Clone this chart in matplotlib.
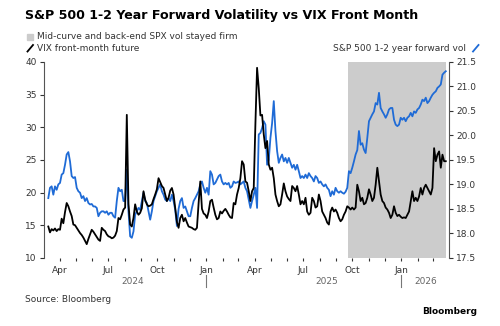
import matplotlib
matplotlib.use("Agg")
import matplotlib.pyplot as plt
import matplotlib.dates as mdates
import matplotlib.transforms as mtrans
from matplotlib.lines import Line2D
from matplotlib.patches import Rectangle
from matplotlib.ticker import FuncFormatter
import pandas as pd

# roughly every 3 days from mid-March 2024 to late March 2026
start_date = "2024-03-11"
end_date = "2026-03-25"
shade_start = "2025-09-23"
shade_end = "2026-03-25"

vix_front = [
    14.8, 13.9, 14.4, 14.2, 14.5, 14.1, 14.4, 14.3, 16.0, 15.3, 17.0, 18.4, 17.9, 17.1, 16.4, 15.1,
    15.0, 14.6, 14.2, 13.8, 13.5, 13.1, 12.6, 12.1, 12.9, 13.6, 14.3, 14.0, 13.6, 13.2, 12.8, 12.6,
    14.6, 14.3, 14.1, 13.6, 13.3, 13.2, 13.0, 13.1, 13.4, 14.1, 16.1, 15.9, 16.6, 17.4, 17.7, 31.9,
    18.2, 15.1, 14.8, 16.1, 18.2, 17.1, 16.6, 16.9, 17.6, 20.2, 18.9, 18.2, 17.9, 18.0, 18.2, 19.0,
    19.7, 20.5, 22.2, 21.6, 21.0, 20.7, 19.7, 18.7, 19.2, 20.3, 20.7, 19.7, 17.6, 15.5, 14.6, 16.1,
    16.6, 15.6, 16.1, 15.4, 14.8, 14.7, 14.6, 14.4, 14.3, 14.6, 18.4, 21.7, 17.5, 16.8, 16.6, 16.1,
    17.1, 18.7, 18.9, 17.7, 16.6, 15.9, 16.1, 17.1, 16.8, 17.2, 17.5, 17.1, 16.6, 16.2, 16.1, 18.4,
    18.2, 19.7, 20.7, 22.2, 24.8, 24.3, 21.7, 21.5, 20.2,
    18.7, 20.2, 20.7, 30.5, 39.1, 36.0, 31.8, 31.9, 28.9, 26.8, 27.9, 24.3, 23.5, 23.8, 22.2, 19.7,
    18.7, 17.9, 18.2, 19.7, 21.4, 20.2, 19.4, 19.0, 18.7, 21.0, 20.7, 20.2, 21.0, 19.7, 18.2, 18.7,
    18.2, 19.2, 17.1, 16.6, 16.9, 19.2, 18.7, 17.7, 17.9, 19.7, 18.7, 17.1, 16.6, 16.1, 15.4, 15.1,
    17.1, 17.7, 17.1, 17.4, 16.9, 16.1, 15.6, 15.9, 16.6, 17.1, 17.9, 17.7, 17.4, 17.7, 17.4, 17.7,
    21.2, 20.2, 18.7, 19.2, 18.2, 18.4, 19.2, 20.5, 19.7, 18.7, 19.2, 21.2, 23.8, 21.7, 19.7, 18.7,
    18.4, 17.7, 17.4, 16.9, 16.1, 16.6, 17.9, 16.9, 16.4, 16.6, 16.3, 16.1, 16.2, 16.1, 16.6, 17.1,
    18.7, 20.2, 18.7, 19.2, 18.7, 19.4, 20.7, 19.7, 20.7, 21.2, 20.7, 20.2, 19.7, 20.7, 26.8, 24.8,
    25.8, 26.3, 23.8, 25.8, 24.8, 24.8,
]

spx_fwd_vol = [
    18.72, 18.93, 18.96, 18.79, 18.96, 18.89, 19.00, 19.03, 19.20, 19.23, 19.40, 19.61, 19.66, 19.47,
    19.17, 19.13, 19.15, 18.93, 18.86, 18.83, 18.72, 18.76, 18.66, 18.72, 18.62, 18.59, 18.60, 18.55,
    18.55, 18.52, 18.35, 18.42, 18.45, 18.45, 18.42, 18.45, 18.38, 18.42, 18.42, 18.35, 18.32, 18.66,
    18.93, 18.86, 18.89, 18.66, 18.66, 19.30, 18.45, 17.94, 17.91, 18.04, 18.38, 18.45, 18.52, 18.48,
    18.66, 18.83, 18.66, 18.62, 18.45, 18.28, 18.45, 18.66, 18.76, 18.86, 18.93, 19.00, 18.86, 18.79,
    18.69, 18.66, 18.72, 18.66, 18.79, 18.66, 18.48, 18.15, 18.50, 18.66, 18.72, 18.52, 18.55, 18.45,
    18.35, 18.35, 18.52, 18.66, 18.72, 18.79, 18.86, 19.00, 19.06, 18.93, 18.83, 18.93, 18.79, 19.27,
    19.20, 19.00, 19.03, 19.10, 19.17, 19.20, 19.06, 19.00, 19.03, 19.00, 19.03, 18.93, 18.96, 19.06,
    19.03, 19.04, 19.06, 19.00, 19.03, 19.06, 18.93, 18.86, 18.69,
    18.52, 18.66, 18.79, 18.93, 18.52, 20.02, 20.05, 20.15, 20.29, 20.22, 19.40, 19.50, 19.95, 20.25,
    20.70, 20.09, 19.68, 19.44, 19.54, 19.61, 19.47, 19.54, 19.44, 19.54, 19.44, 19.34, 19.40, 19.30,
    19.40, 19.27, 19.13, 19.17, 19.13, 19.20, 19.13, 19.23, 19.17, 19.13, 19.06, 19.17, 19.13, 19.03,
    19.06, 19.00, 18.96, 19.00, 18.93, 18.89, 18.76, 18.86, 18.79, 18.93, 18.86, 18.83, 18.86, 18.83,
    18.81, 18.85, 18.93, 19.27, 19.23, 19.34, 19.47, 19.61, 19.70, 20.09, 19.81, 19.84, 19.71, 19.64,
    19.95, 20.29, 20.36, 20.43, 20.49, 20.66, 20.63, 20.87, 20.56, 20.49, 20.43, 20.36, 20.43, 20.53,
    20.56, 20.56, 20.32, 20.22, 20.19, 20.22, 20.36, 20.32, 20.36, 20.29, 20.36, 20.39, 20.46, 20.39,
    20.49, 20.46, 20.53, 20.56, 20.63, 20.73, 20.70, 20.77, 20.66, 20.70, 20.77, 20.83, 20.87, 20.90,
    20.97, 21.00, 21.04, 21.24, 21.28, 21.31,
]

left_ticks = [10, 15, 20, 25, 30, 35, 40]
right_ticks = [17.5, 18.0, 18.5, 19.0, 19.5, 20.0, 20.5, 21.0, 21.5]
year_labels = [("2024-08-15", "2024"), ("2025-08-15", "2025"), ("2026-02-15", "2026")]
year_breaks = ["2025-01-01", "2026-01-01"]

dates = pd.date_range(start_date, end_date, periods=len(vix_front))

blue = "#1f6bd6"
txt = "#333333"

fig = plt.figure(figsize=(5.0, 3.26), dpi=100)
ax = fig.add_axes([0.087, 0.209, 0.811, 0.601])
ax2 = ax.twinx()

ax2.axvspan(pd.Timestamp(shade_start), pd.Timestamp(shade_end), color="#cccccc", lw=0, zorder=0)
ax2.plot(dates, spx_fwd_vol, color=blue, lw=1.3, zorder=2)
ax.plot(dates, vix_front, color="black", lw=1.3, zorder=3)
ax.set_zorder(ax2.get_zorder() + 1)
ax.patch.set_visible(False)

ax.set_ylim(10, 40)
ax2.set_ylim(17.5, 21.5)
ax.set_yticks(left_ticks)
ax2.set_yticks(right_ticks)
ax2.yaxis.set_major_formatter(FuncFormatter(lambda v, p: "%.1f" % v))
ax.set_xlim(pd.Timestamp("2024-03-02"), pd.Timestamp("2026-03-31"))

for a in (ax, ax2):
    for s in ("top", "bottom"):
        a.spines[s].set_visible(False)
    a.tick_params(axis="y", labelsize=6.5, colors=txt, length=3, width=0.8, pad=2)
ax.spines["right"].set_visible(False)
ax2.spines["left"].set_visible(False)
ax.spines["left"].set_color("#555555")
ax2.spines["right"].set_color("#555555")

ax.xaxis.set_major_locator(mdates.MonthLocator())
ax.xaxis.set_major_formatter(FuncFormatter(
    lambda v, p: mdates.num2date(v).strftime("%b") if mdates.num2date(v).month in (1, 4, 7, 10) else ""))
ax.tick_params(axis="x", labelsize=6.5, colors=txt, length=2.5, width=0.8, pad=3, direction="out")

trans = mtrans.blended_transform_factory(ax.transData, fig.transFigure)
for d, lab in year_labels:
    fig.text(mdates.date2num(pd.Timestamp(d)), 0.135, lab, transform=trans, ha="center", va="center",
             fontsize=6.5, color="#666666")
for d in year_breaks:
    x = mdates.date2num(pd.Timestamp(d))
    fig.add_artist(Line2D([x, x], [0.12, 0.155], transform=trans, color="#777777", lw=0.8))

fig.text(0.05, 0.953, "S&P 500 1-2 Year Forward Volatility vs VIX Front Month", fontsize=9.1,
         fontweight="heavy", ha="left", va="center", color="black")

fig.add_artist(Rectangle((0.054, 0.878), 0.012, 0.018, transform=fig.transFigure, color="#cccccc"))
fig.text(0.074, 0.888, "Mid-curve and back-end SPX vol stayed firm", fontsize=6.5, color=txt,
         ha="left", va="center")
fig.add_artist(Line2D([0.055, 0.066], [0.842, 0.862], transform=fig.transFigure, color="black", lw=1.3))
fig.text(0.074, 0.852, "VIX front-month future", fontsize=6.5, color=txt, ha="left", va="center")
fig.add_artist(Line2D([0.946, 0.957], [0.842, 0.862], transform=fig.transFigure, color=blue, lw=1.3))
fig.text(0.932, 0.852, "S&P 500 1-2 year forward vol", fontsize=6.5, color=txt, ha="right", va="center")

fig.text(0.05, 0.08, "Source: Bloomberg", fontsize=6.5, color=txt, ha="left", va="center")
fig.text(0.955, 0.043, "Bloomberg", fontsize=6.5, fontweight="bold", color="black", ha="right", va="center")

plt.savefig("out.png", dpi=100)
